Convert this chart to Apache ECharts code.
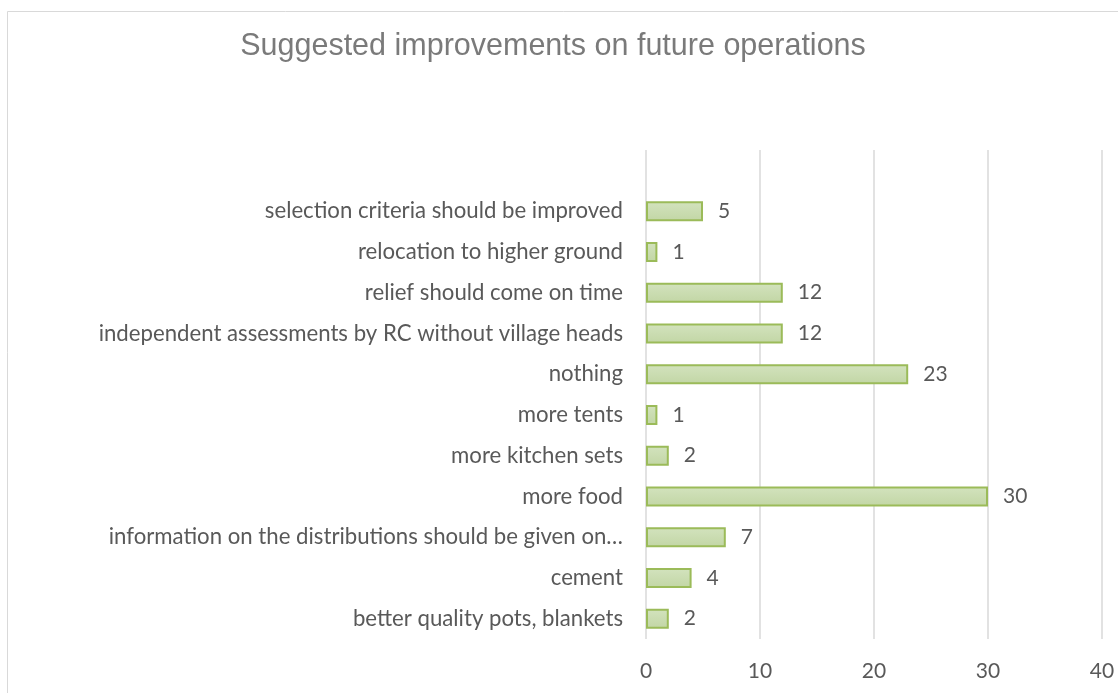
<!DOCTYPE html>
<html>
<head>
<meta charset="utf-8">
<script src="https://cdn.jsdelivr.net/npm/echarts@6/dist/echarts.min.js"></script>
<style>
  html, body { margin: 0; padding: 0; background: #ffffff; }
  #chart { width: 1118px; height: 693px; }
</style>
</head>
<body>
<div id="chart"></div>
<script>
// Survey answers, listed bottom to top; the last row is a blank entry in the source table
const categories = [
  'better quality pots, blankets',
  'cement',
  'information on the distributions should be given on\u2026',
  'more food',
  'more kitchen sets',
  'more tents',
  'nothing',
  'independent assessments by RC without village heads',
  'relief should come on time',
  'relocation to higher ground',
  'selection criteria should be improved',
  ''
];
const counts = [2, 4, 7, 30, 2, 1, 23, 12, 12, 1, 5, null];
const xTicks = [0, 10, 20, 30, 40];

const labelFont = 'Lato, "Open Sans", sans-serif';
const textGrey = '#595959';

const chart = echarts.init(document.getElementById('chart'), null, { renderer: 'canvas' });

chart.setOption({
  animation: false,
  backgroundColor: '#ffffff',
  title: {
    text: 'Suggested improvements on future operations',
    left: 548,
    top: 26,
    textAlign: 'center',
    textStyle: {
      fontFamily: '"Liberation Sans", Arial, sans-serif',
      fontSize: 30.5,
      fontWeight: 'normal',
      color: '#7a7a7a'
    }
  },
  graphic: [{
    type: 'rect',
    shape: { x: 7.5, y: 11.5, width: 1200, height: 800 },
    style: { fill: 'none', stroke: '#d9d9d9', lineWidth: 1 },
    silent: true,
    z: -1
  }],
  grid: { left: 646, right: 16, top: 150, bottom: 54, containLabel: false },
  xAxis: {
    type: 'value',
    min: xTicks[0],
    max: xTicks[xTicks.length - 1],
    interval: xTicks[1] - xTicks[0],
    axisLine: { show: false },
    axisTick: { show: false },
    splitLine: { show: true, lineStyle: { color: '#d9d9d9', width: 1.5 } },
    axisLabel: {
      color: textGrey,
      fontFamily: labelFont,
      fontSize: 21,
      margin: 22
    }
  },
  yAxis: {
    type: 'category',
    data: categories,
    axisLine: { show: false },
    axisTick: { show: false },
    splitLine: { show: false },
    axisLabel: {
      color: textGrey,
      fontFamily: labelFont,
      fontSize: 22.2,
      margin: 23
    }
  },
  series: [{
    type: 'bar',
    data: counts,
    barWidth: 20,
    itemStyle: {
      color: new echarts.graphic.LinearGradient(0, 0, 0, 1, [
        { offset: 0, color: '#d3e3be' },
        { offset: 1, color: '#c2d6a5' }
      ]),
      borderColor: '#9bbb59',
      borderWidth: 2
    },
    label: {
      show: true,
      position: 'right',
      distance: 15,
      color: textGrey,
      fontFamily: labelFont,
      fontSize: 21
    }
  }]
});
</script>
</body>
</html>
